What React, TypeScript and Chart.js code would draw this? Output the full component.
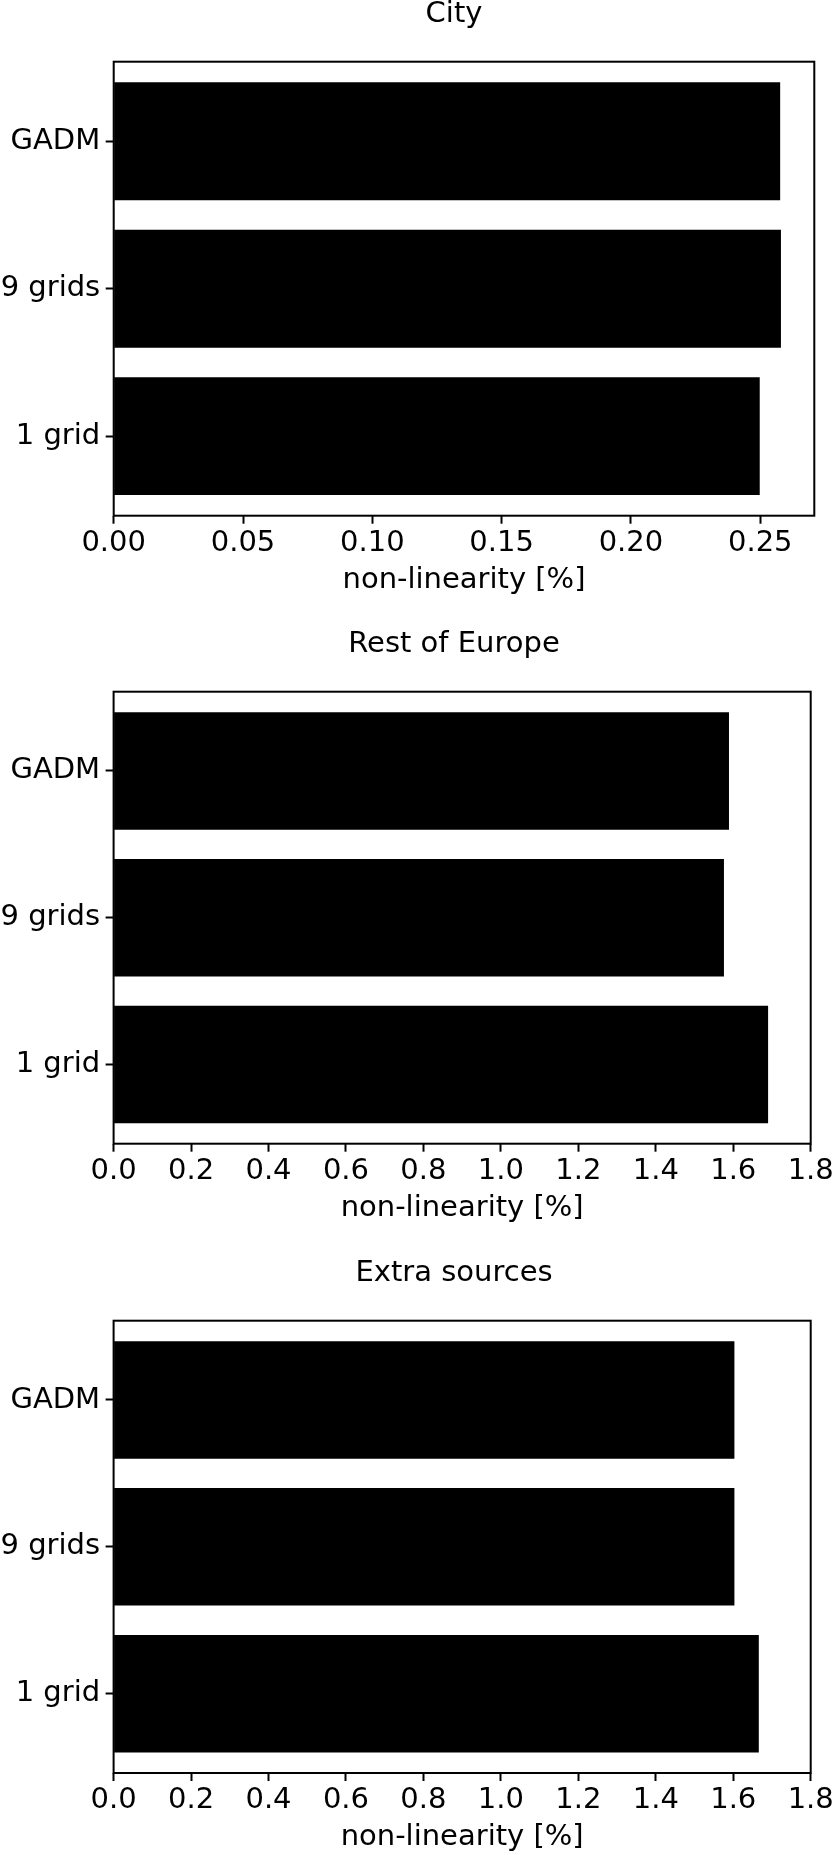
import React, { useEffect, useRef } from "react";
import { Chart, registerables } from "chart.js";

Chart.register(...registerables);

// ---- data ----
const categories = ["1 grid", "9 grids", "GADM"];
const cityValues = [0.2498, 0.258, 0.2577];
const restValues = [1.69, 1.576, 1.589];
const extraValues = [1.666, 1.603, 1.603];

const cityTicks = [0, 0.05, 0.1, 0.15, 0.2, 0.25];
const cityTickLabels = ["0.00", "0.05", "0.10", "0.15", "0.20", "0.25"];
const europeTicks = [0, 0.2, 0.4, 0.6, 0.8, 1.0, 1.2, 1.4, 1.6, 1.8];
const europeTickLabels = ["0.0", "0.2", "0.4", "0.6", "0.8", "1.0", "1.2", "1.4", "1.6", "1.8"];

const panelTitles = ["City", "Rest of Europe", "Extra sources"];
const xAxisTitle = "non-linearity [%]";
const cityXMax = 0.2709;
const europeXMax = 1.8;
const yMin = -0.54;
const yMax = 2.54;

const FONT = "'DejaVu Sans'";
const FS = 29;
const W = 833;
const TITLE_CENTER_X = 454;

type PanelProps = {
  title: string;
  values: number[];
  xMax: number;
  ticks: number[];
  tickLabels: string[];
  top: number;
  height: number;
  areaTop: number;
  areaBottom: number;
  areaLeft: number;
  areaRight: number;
};

function Panel(p: PanelProps) {
  const ref = useRef<HTMLCanvasElement>(null);
  useEffect(() => {
    const font = { family: FONT, size: FS, weight: "normal" as const, lineHeight: 1 };
    const framePlugin = {
      id: "frame",
      afterLayout(chart: any) {
        const t = chart.titleBlock;
        if (t) {
          t.left = TITLE_CENTER_X - 320;
          t.right = TITLE_CENTER_X + 320;
          t.width = 640;
        }
      },
      afterDatasetsDraw(chart: any) {
        const { ctx, chartArea: a } = chart;
        ctx.save();
        ctx.strokeStyle = "#000";
        ctx.lineWidth = 2;
        ctx.strokeRect(a.left, a.top, a.right - a.left, a.bottom - a.top);
        ctx.restore();
      },
    };
    const chart = new Chart(ref.current as HTMLCanvasElement, {
      type: "bar",
      data: {
        datasets: [
          {
            data: categories.map((c, i) => ({ x: p.values[i], y: i })),
            backgroundColor: "#000",
            borderWidth: 0,
            categoryPercentage: 1,
            barPercentage: 0.8,
          } as any,
        ],
      },
      options: {
        indexAxis: "y",
        responsive: false,
        animation: false,
        devicePixelRatio: 1,
        layout: { padding: { left: 0, top: 0, bottom: 0, right: W - p.areaRight } },
        plugins: {
          legend: { display: false },
          tooltip: { enabled: false },
          title: {
            display: true,
            text: p.title,
            color: "#000",
            font,
            padding: { top: p.areaTop - 61.5, bottom: 32.5 },
          },
        },
        scales: {
          x: {
            type: "linear",
            position: "bottom",
            min: 0,
            max: p.xMax,
            offset: false,
            afterBuildTicks: (s: any) => {
              s.ticks = p.ticks.map((v) => ({ value: v }));
            },
            afterFit: (s: any) => {
              s.height = p.height - p.areaBottom;
              s.paddingLeft = 0;
              s.paddingRight = 0;
            },
            ticks: {
              autoSkip: false,
              maxRotation: 0,
              minRotation: 0,
              color: "#000",
              font,
              padding: 4.8,
              callback: (v: any, i: number) => p.tickLabels[i],
            },
            grid: {
              offset: false,
              drawOnChartArea: false,
              drawTicks: true,
              tickLength: 8,
              tickWidth: 2,
              tickColor: "#000",
            },
            border: { display: false },
            title: {
              display: true,
              text: xAxisTitle,
              color: "#000",
              font,
              padding: { top: 0, bottom: p.height - p.areaBottom - 78.8 },
            },
          },
          y: {
            type: "linear",
            position: "left",
            min: yMin,
            max: yMax,
            offset: false,
            afterBuildTicks: (s: any) => {
              s.ticks = categories.map((_, i) => ({ value: i }));
            },
            afterFit: (s: any) => {
              s.width = p.areaLeft;
              s.paddingTop = 0;
              s.paddingBottom = 0;
            },
            ticks: {
              autoSkip: false,
              color: "#000",
              font,
              padding: 5.5,
              callback: (v: any) => categories[v as number],
            },
            grid: {
              offset: false,
              drawOnChartArea: false,
              drawTicks: true,
              tickLength: 8,
              tickWidth: 2,
              tickColor: "#000",
            },
            border: { display: false },
          },
        },
      } as any,
      plugins: [framePlugin],
    });
    return () => chart.destroy();
  }, []);
  return (
    <canvas
      ref={ref}
      width={W}
      height={p.height}
      style={{ position: "absolute", left: 0, top: p.top, width: W, height: p.height }}
    />
  );
}

export default function App() {
  return (
    <div style={{ position: "absolute", left: 0, top: 0, width: W, height: 1855, background: "#fff" }}>
      <Panel
        title={panelTitles[0]}
        values={cityValues}
        xMax={cityXMax}
        ticks={cityTicks}
        tickLabels={cityTickLabels}
        top={0}
        height={620}
        areaTop={61.7}
        areaBottom={515.7}
        areaLeft={113.7}
        areaRight={814.3}
      />
      <Panel
        title={panelTitles[1]}
        values={restValues}
        xMax={europeXMax}
        ticks={europeTicks}
        tickLabels={europeTickLabels}
        top={620}
        height={630}
        areaTop={71.7}
        areaBottom={523.7}
        areaLeft={113.6}
        areaRight={810.7}
      />
      <Panel
        title={panelTitles[2]}
        values={extraValues}
        xMax={europeXMax}
        ticks={europeTicks}
        tickLabels={europeTickLabels}
        top={1250}
        height={605}
        areaTop={70.7}
        areaBottom={523}
        areaLeft={113.6}
        areaRight={810.7}
      />
    </div>
  );
}
